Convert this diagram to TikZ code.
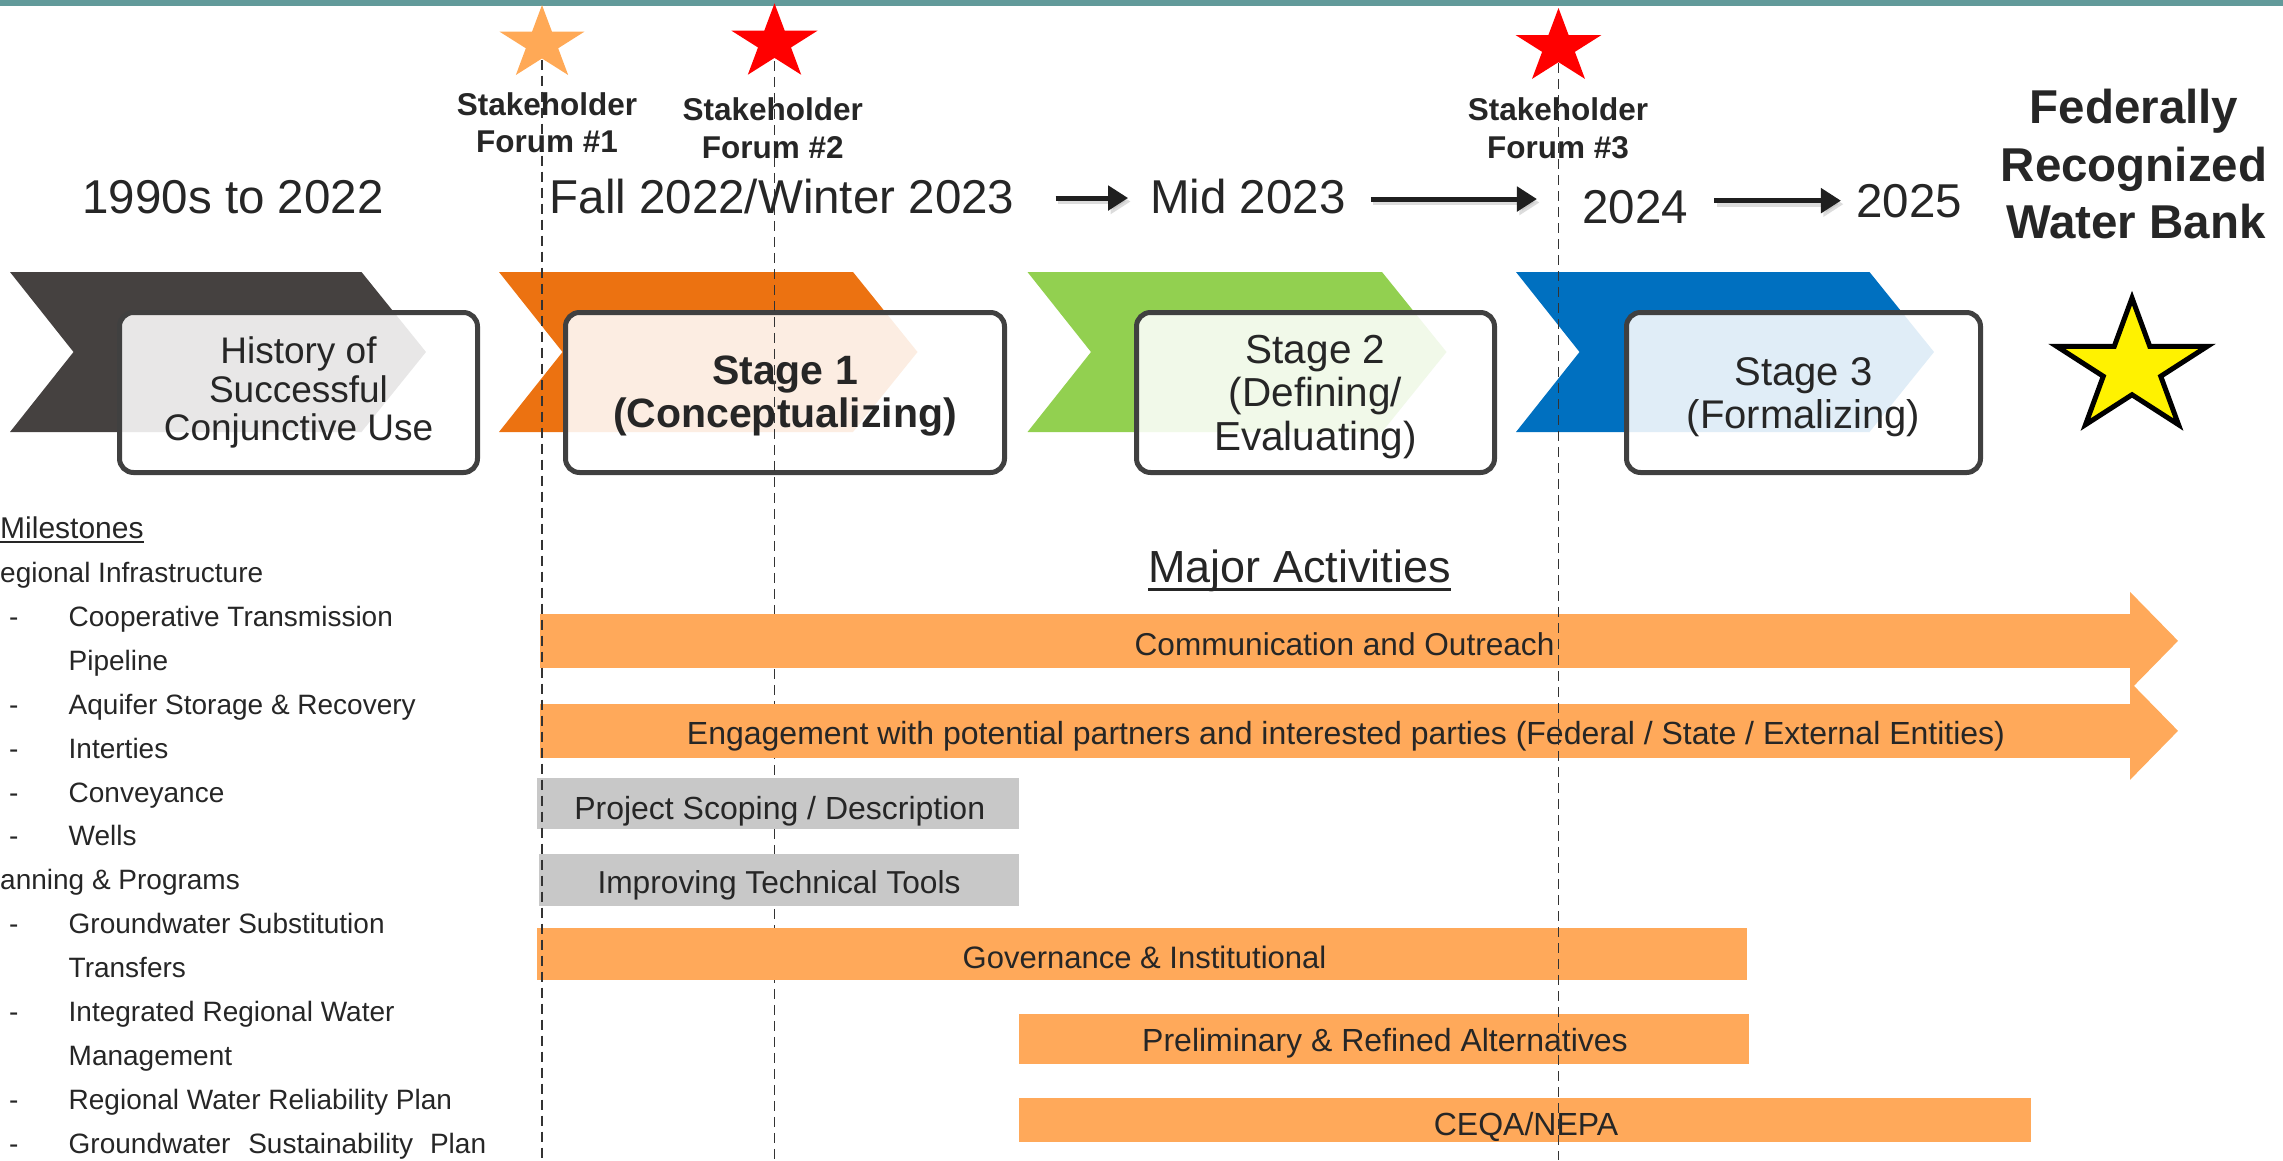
\documentclass[tikz,border=0pt]{standalone}
\usepackage{fontspec}
\setmainfont{Liberation Sans}
\usetikzlibrary{arrows.meta,calc}
\definecolor{band}{HTML}{629A9A}
\definecolor{txt}{HTML}{262626}
\definecolor{chevdark}{HTML}{454140}
\definecolor{chevorange}{HTML}{EC7211}
\definecolor{chevgreen}{HTML}{92D050}
\definecolor{chevblue}{HTML}{0070C0}
\definecolor{boxline}{HTML}{404040}
\definecolor{barorange}{HTML}{FFA95A}
\definecolor{bargrey}{HTML}{C8C8C8}
\definecolor{starorange}{HTML}{FFA956}
\newcommand\fsz[2]{\fontsize{#1pt}{#2pt}\selectfont}
\newcommand\chevronshape[3]{%
  \fill[#3] (#1,272) -- (#2,272) -- ({#2+64.5},352) -- (#2,432) -- (#1,432) -- ({#1+63.5},352) -- cycle;}
\newcommand\starshape[4]{%
  \begin{scope}[shift={(#1)},xscale=#3]
    \path[#4] (-90:#2) \foreach \k in {1,...,9}{ -- ({-90+36*\k}:{ifthenelse(mod(\k,2)==0,1,0.382)*#2}) } -- cycle;
  \end{scope}}
\tikzset{
  stagebox/.style={draw=boxline, line width=5pt, rounded corners=14pt, fill=white, fill opacity=0.88, text opacity=1, text=txt, align=center, inner sep=0pt, minimum height=160pt},
  forumline/.style={draw=black!80, line width=1.8pt, dash pattern=on 10pt off 6pt},
  actbar/.style={inner sep=0pt, outer sep=0pt, draw=none},
  barO/.style={actbar, fill=barorange},
  barG/.style={actbar, fill=bargrey},
  bartext/.style={anchor=base, inner sep=0pt, text=txt, font=\fsz{32}{32}},
  datetxt/.style={anchor=base, inner sep=0pt, text=txt, font=\fsz{47.5}{47.5}},
  datearrow/.style={line width=5pt, draw=black!88, -{Triangle[length=20pt,width=24pt]}},
  dateshadow/.style={line width=5pt, draw=black!30, opacity=0.45, -{Triangle[length=20pt,width=24pt]}},
  forumlbl/.style={anchor=base, inner sep=0pt, font=\bfseries\fsz{31.5}{31.5}, text=txt},
  fedlbl/.style={anchor=base, inner sep=0pt, font=\bfseries\fsz{47.5}{47.5}, text=txt},
  listtxt/.style={anchor=base west, inner sep=0pt, font=\fsz{28}{28}, text=txt}
}
\begin{document}
\begin{tikzpicture}[x=1pt,y=-1pt]
\useasboundingbox (0,0) rectangle (2283,1160);
% top band
\fill[band] (0,0) rectangle (2283,5.7);

% chevrons
\chevronshape{10}{361.5}{chevdark}
\chevronshape{499}{853}{chevorange}
\chevronshape{1027.5}{1382}{chevgreen}
\chevronshape{1516}{1869.5}{chevblue}

% stage boxes
\node[stagebox, minimum width=358pt, font=\fsz{37}{38.3}] (hist) at (298.5,392.5) {History of\\Successful\\Conjunctive Use};
\node[stagebox, minimum width=439pt, font=\bfseries\fsz{41}{43}] (st1) at (785,392.5) {\rule{0pt}{36.6pt}Stage 1\\(Conceptualizing)};
\node[stagebox, minimum width=358pt, font=\fsz{40.5}{43.5}] (st2) at (1315.5,392.5) {\rule{0pt}{36.8pt}Stage 2\\(Defining/\\Evaluating)};
\node[stagebox, minimum width=354pt, font=\fsz{40}{43}] (st3) at (1803.5,392.5) {\rule{0pt}{36.4pt}Stage 3\\(Formalizing)};

% stars
\coordinate (s1) at (542,43.7);
\coordinate (s2) at (774.5,42.8);
\coordinate (s3) at (1558.5,47.2);
\coordinate (sy) at (2132,368);
\coordinate (bot) at (0,1160);
\starshape{s1}{38.7}{1.15}{fill=starorange}
\starshape{s2}{39.5}{1.15}{fill=red}
\starshape{s3}{39.2}{1.15}{fill=red}
\starshape{sy}{70}{1.13}{fill=yellow,draw=black,line width=5pt}

% forum line 2 (behind the bars)
\draw[forumline] ([yshift=-18pt]s2) -- (s2 |- bot);

% activity bars
\node[barO, minimum width=1590.5pt, minimum height=53.7pt] (comm) at (1334.75,640.85) {};
\fill[barorange] ($(comm.east)+(0,-49)$) -- ($(comm.east)+(48,0)$) -- ($(comm.east)+(0,49)$) -- cycle;
\node[barO, minimum width=1590.5pt, minimum height=53.7pt] (eng) at (1334.75,730.85) {};
\fill[barorange] ($(eng.east)+(0,-49)$) -- ($(eng.east)+(48,0)$) -- ($(eng.east)+(0,49)$) -- cycle;
\node[barG, minimum width=481.5pt, minimum height=51.3pt] (scope) at (777.75,803.65) {};
\node[barG, minimum width=479.5pt, minimum height=51.7pt] (tools) at (778.75,879.85) {};
\node[barO, minimum width=1210pt, minimum height=51.7pt] (gov) at (1142,953.85) {};
\node[barO, minimum width=730pt, minimum height=49.7pt] (prelim) at (1384,1038.85) {};
\node[barO, minimum width=1012pt, minimum height=43.7pt] (ceqa) at (1525,1119.85) {};

\node[bartext, font=\fsz{31.6}{31.6}] (commtxt) at (1344.5,655) {Communication and Outreach};
\node[bartext] (engtxt) at (1346,744) {Engagement with potential partners and interested parties (Federal / State / External Entities)};
\node[bartext] (scopetxt) at (779.7,819) {Project Scoping / Description};
\node[bartext, font=\fsz{31.7}{31.7}] (toolstxt) at (779,893.3) {Improving Technical Tools};
\node[bartext, font=\fsz{31}{31}] (govtxt) at (1144.5,968.3) {Governance \& Institutional};
\node[bartext] (prelimtxt) at (1385,1051.7) {Preliminary \& Refined Alternatives};
\node[bartext] (ceqatxt) at (1526,1135) {CEQA/NEPA};

% forum lines 1 and 3 (over the bars)
\draw[forumline] ([yshift=-16pt]s1) -- (s1 |- bot);
\draw[forumline] ([yshift=-16pt]s3) -- (s3 |- bot);

% Major activities heading
\node[anchor=base, inner sep=0pt, font=\fsz{45}{45}, text=txt] (major) at (1299.5,582) {Major Activities};
\draw[txt, line width=3pt] ([yshift=-7pt]major.base west) -- ([yshift=-7pt]major.base east);

% forum labels
\node[forumlbl] (f1a) at (547,115) {Stakeholder};
\node[forumlbl] (f1b) at (547,152.7) {Forum \#1};
\node[forumlbl] (f2a) at (772.7,120) {Stakeholder};
\node[forumlbl] (f2b) at (772.7,158.3) {Forum \#2};
\node[forumlbl] (f3a) at (1558,120) {Stakeholder};
\node[forumlbl] (f3b) at (1558,158.3) {Forum \#3};

% dates
\node[datetxt] (d1) at (233,213) {1990s to 2022};
\node[datetxt] (d2) at (782,213) {Fall 2022/Winter 2023};
\node[datetxt] (d3) at (1248,213) {Mid 2023};
\node[datetxt] (d4) at (1635,223) {2024};
\node[datetxt] (d5) at (1909,217) {2025};

\draw[dateshadow] ($(d2.east)+(43.5,5.5)$) -- ($(d2.east -| d3.west)+(-19.5,5.5)$);
\draw[datearrow] ($(d2.east)+(41,2)$) -- ($(d2.east -| d3.west)+(-22,2)$);
\draw[dateshadow] ($(d3.east)+(27.5,6.5)$) -- ($(d3.east -| d4.west)+(-42.5,6.5)$);
\draw[datearrow] ($(d3.east)+(25,3)$) -- ($(d3.east -| d4.west)+(-45,3)$);
\draw[dateshadow] ($(d4.east)+(28.5,-2.5)$) -- ($(d4.east -| d5.west)+(-12.5,-2.5)$);
\draw[datearrow] ($(d4.east)+(26,-6)$) -- ($(d4.east -| d5.west)+(-15,-6)$);

% federally recognized water bank
\node[fedlbl] (fed1) at (2134,123.3) {Federally};
\node[fedlbl] (fed2) at (2134,181.7) {Recognized};
\node[fedlbl] (fed3) at (2136,238.3) {Water Bank};

% milestones list
\node[anchor=base west, inner sep=0pt, font=\fsz{30}{30}, text=txt] (ms) at (0,538.5) {Milestones};
\coordinate (msul) at (0,542);
\draw[txt, line width=2pt] (msul) -- (msul -| ms.east);
\node[listtxt] (h1) at (0,582.5) {egional Infrastructure};
\node[listtxt] (m1d) at (9,626.4) {-};
\node[listtxt] (m1) at (68.5,626.4) {Cooperative Transmission};
\node[listtxt] (m1b) at (68.5,670.3) {Pipeline};
\node[listtxt] (m2d) at (9,714.2) {-};
\node[listtxt] (m2) at (68.5,714.2) {Aquifer Storage \& Recovery};
\node[listtxt] (m3d) at (9,758.1) {-};
\node[listtxt] (m3) at (68.5,758.1) {Interties};
\node[listtxt] (m4d) at (9,802.0) {-};
\node[listtxt] (m4) at (68.5,802.0) {Conveyance};
\node[listtxt] (m5d) at (9,845.9) {-};
\node[listtxt] (m5) at (68.5,845.9) {Wells};
\node[listtxt] (h2) at (0,889.8) {anning \& Programs};
\node[listtxt] (p1d) at (9,933.7) {-};
\node[listtxt] (p1) at (68.5,933.7) {Groundwater Substitution};
\node[listtxt] (p1b) at (68.5,977.6) {Transfers};
\node[listtxt] (p2d) at (9,1021.5) {-};
\node[listtxt] (p2) at (68.5,1021.5) {Integrated Regional Water};
\node[listtxt] (p2b) at (68.5,1065.4) {Management};
\node[listtxt] (p3d) at (9,1109.3) {-};
\node[listtxt] (p3) at (68.5,1109.3) {Regional Water Reliability Plan};
\node[listtxt] (p4d) at (9,1153.2) {-};
\node[listtxt] (p4) at (68.5,1153.2) {Groundwater\hspace{10pt} Sustainability\hspace{9pt} Plan};
\end{tikzpicture}
\end{document}
